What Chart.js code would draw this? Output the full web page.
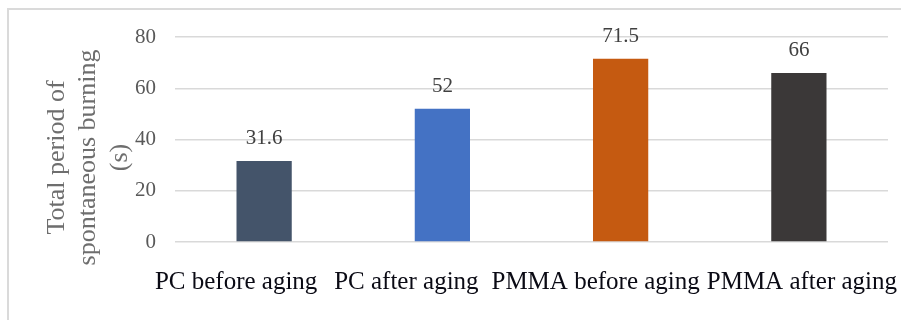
<!DOCTYPE html>
<html>
<head>
<meta charset="utf-8">
<script src="https://cdn.jsdelivr.net/npm/chart.js@4.4.1/dist/chart.umd.min.js"></script>
<style>
  html, body { margin: 0; padding: 0; background: #ffffff; }
  #wrap { position: relative; width: 901px; height: 320px; overflow: hidden; }
  #frame {
    position: absolute; left: 7px; top: 8px; width: 1000px; height: 400px;
    border-left: 2px solid #dadada; border-top: 2px solid #dadada;
  }
  canvas { position: absolute; left: 0; top: 0; }
</style>
</head>
<body>
<div id="wrap">
  <div id="frame"></div>
  <canvas id="c" width="901" height="320"></canvas>
</div>
<script>
// Samples and their total spontaneous burning time (s)
const categories = ['PC before aging', 'PC after aging', 'PMMA before aging', 'PMMA after aging'];
const burnTimes = [31.6, 52, 71.5, 66];
const valueLabels = ['31.6', '52', '71.5', '66'];
const barColors = ['#44546A', '#4472C4', '#C55A11', '#3B3838'];
const yTicks = [0, 20, 40, 60, 80];
const yTitle = ['Total period of', 'spontaneous burning', '(s)'];

const SERIF = '"Liberation Serif", "Times New Roman", serif';

// horizontal nudges of the category captions so the long names fit side by side
const captionShift = [-28, -36, -25, 3];

const barValueLabels = {
  id: 'barValueLabels',
  afterDatasetsDraw(chart) {
    const ctx = chart.ctx;
    const meta = chart.getDatasetMeta(0);
    ctx.save();
    ctx.font = '21px ' + SERIF;
    ctx.fillStyle = '#404040';
    ctx.textAlign = 'center';
    ctx.textBaseline = 'alphabetic';
    meta.data.forEach((bar, i) => {
      ctx.fillText(valueLabels[i], bar.x, bar.y - 17);
    });
    ctx.restore();
  }
};

const categoryCaptions = {
  id: 'categoryCaptions',
  afterDraw(chart) {
    const ctx = chart.ctx;
    const xs = chart.scales.x;
    ctx.save();
    ctx.font = '25px ' + SERIF;
    ctx.fillStyle = '#0a0a14';
    ctx.textAlign = 'center';
    ctx.textBaseline = 'alphabetic';
    categories.forEach((name, i) => {
      ctx.fillText(name, xs.getPixelForTick(i) + captionShift[i], chart.chartArea.bottom + 47);
    });
    ctx.restore();
  }
};

// rotated three-line value-axis title, sitting a little below the plot's middle
const valueAxisTitle = {
  id: 'valueAxisTitle',
  afterDraw(chart) {
    const ctx = chart.ctx;
    const ys = chart.scales.y;
    const size = 26, lineH = 31.5;
    const cy = (chart.chartArea.top + chart.chartArea.bottom) / 2 + 18;
    ctx.save();
    ctx.font = size + 'px ' + SERIF;
    ctx.fillStyle = '#6e6e6e';
    ctx.textAlign = 'center';
    ctx.textBaseline = 'middle';
    yTitle.forEach((line, i) => {
      const cx = ys.left + 5 + lineH / 2 + i * lineH;
      ctx.save();
      ctx.translate(cx, cy);
      ctx.rotate(-Math.PI / 2);
      ctx.fillText(line, 0, 0);
      ctx.restore();
    });
    ctx.restore();
  }
};

new Chart(document.getElementById('c'), {
  type: 'bar',
  data: {
    labels: categories,
    datasets: [{
      data: burnTimes,
      backgroundColor: barColors,
      borderWidth: 0,
      categoryPercentage: 1,
      barPercentage: 0.31
    }]
  },
  options: {
    responsive: false,
    animation: false,
    events: [],
    layout: { padding: { left: 36, right: 13, top: 37, bottom: 78 } },
    plugins: {
      legend: { display: false },
      tooltip: { enabled: false },
      title: { display: false }
    },
    scales: {
      x: {
        display: false
      },
      y: {
        min: 0,
        max: 80,
        afterBuildTicks: (scale) => { scale.ticks = yTicks.map(v => ({ value: v })); },
        afterFit: (scale) => { scale.width = 139; },
        border: { display: false },
        grid: { color: '#d9d9d9', lineWidth: 1.5, drawTicks: false },
        ticks: {
          padding: 19,
          color: '#595959',
          font: { family: SERIF, size: 21 }
        },
        title: { display: false }
      }
    }
  },
  plugins: [barValueLabels, categoryCaptions, valueAxisTitle]
});
</script>
</body>
</html>
